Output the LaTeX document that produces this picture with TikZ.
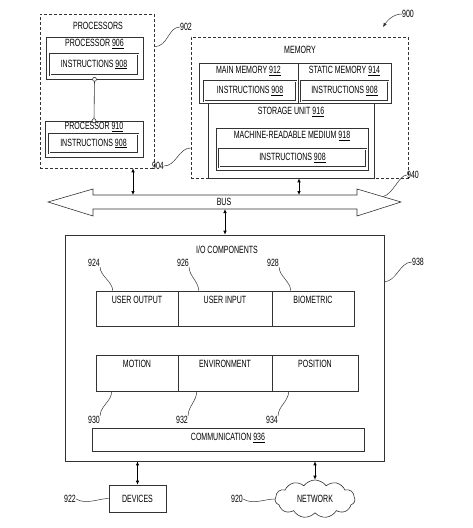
\documentclass[tikz,border=0pt]{standalone}
\usepackage{fontspec}
\setmainfont{Liberation Sans}[FakeStretch=0.67]
\usetikzlibrary{arrows.meta,shapes.symbols}
\colorlet{linegray}{black!80}
\newcommand{\refno}[1]{\underline{#1}}

\begin{document}
\begin{tikzpicture}[x=1pt, y=-1pt, every node/.style={font=\fontsize{10.5}{12}\selectfont, inner sep=0pt},
    box/.style={draw=linegray, line width=0.6pt},
    group/.style={draw=linegray, line width=0.6pt, dash pattern=on 3pt off 2pt},
    instr/.style={draw=linegray, double, double distance=0.6pt, line width=0.4pt},
    cell/.style={draw=linegray, line width=0.6pt, inner ysep=1.5pt, text height=11pt, text depth=21pt},
    lead/.style={draw=linegray, line width=0.5pt},
    link/.style={draw=black, line width=0.7pt, <->},
    >={Latex[length=4pt,width=3.5pt]}]
    \useasboundingbox (0,0) rectangle (472,528);
    \node[group, minimum width=114pt, minimum height=154pt] (procs) at (97,91) {};
    \node (procs-t) at (98,26) {PROCESSORS};
    \node[box, minimum width=97pt, minimum height=42pt] (p906) at (94.5,58) {};
    \node (p906-t) at (94.5,44) {PROCESSOR \refno{906}};
    \node[instr, minimum width=88pt, minimum height=21pt] (i906) at (94,64.5) {INSTRUCTIONS \refno{908}};
    \node[box, minimum width=98pt, minimum height=36pt] (p910) at (94,139) {};
    \node (p910-t) at (94,127) {PROCESSOR \refno{910}};
    \node[instr, minimum width=89pt, minimum height=19pt] (i910) at (93.5,143.5) {INSTRUCTIONS \refno{908}};
    \draw[box] (p906.south) -- (p910.north);
    \draw[box, fill=white] (p906.south) circle (2pt) (p910.north) circle (2pt);

    \node[group, minimum width=217pt, minimum height=141pt] (mem) at (299.5,107.5) {};
    \node (mem-t) at (300,50) {MEMORY};
    \node[box, minimum width=99pt, minimum height=40pt] (mm912) at (248.5,83) {};
    \node (mm912-t) at (248.5,71) {MAIN MEMORY \refno{912}};
    \node[instr, minimum width=92pt, minimum height=20pt] (i912) at (250,91) {INSTRUCTIONS \refno{908}};
    \node[box, minimum width=93pt, minimum height=40pt] (sm914) at (344.5,83) {};
    \node (sm914-t) at (344.5,71) {STATIC MEMORY \refno{914}};
    \node[instr, minimum width=87pt, minimum height=20pt] (i914) at (344.5,91) {INSTRUCTIONS \refno{908}};
    \node[box, minimum width=166pt, minimum height=75pt] (su916) at (291,140.5) {};
    \node (su916-t) at (291,112) {STORAGE UNIT \refno{916}};
    \node[box, minimum width=152pt, minimum height=42pt] (mrm918) at (292,149) {};
    \node (mrm918-t) at (292,136) {MACHINE-READABLE MEDIUM \refno{918}};
    \node[instr, minimum width=147pt, minimum height=18pt] (i918) at (292.5,158) {INSTRUCTIONS \refno{908}};

    \node (l900) at (408,14) {900};
    \coordinate (a900) at (383,27);
    \draw[lead, ->] (l900.west) .. controls +(-9,0) and +(4,-6) .. (a900);
    \node (l902) at (186,27) {902};
    \draw[lead] ([yshift=-33pt]procs.north east) .. controls +(14,0) and +(-12,0) .. (l902.west);
    \node (l904) at (158,166) {904};
    \draw[lead] (l904.east) .. controls +(12,0) and +(-12,0) .. ([yshift=-40.5pt]mem.west);

    \draw[box] (48,202) -- (93,189) -- (93,195) -- (357,195) -- (357,189) -- (401,202)
        -- (357,216) -- (357,209) -- (93,209) -- (93,216) -- cycle;
    \node (bus) at (224,202) {BUS};
    \coordinate (bus-p) at (133,195);
    \coordinate (bus-m) at (299,195);
    \coordinate (bus-io) at (225,209);
    \coordinate (b940) at (383,196.5);
    \node (l940) at (413,175) {940};
    \draw[lead] (b940) .. controls +(10,-2) and +(-8,0) .. (l940.west);

    \node[box, minimum width=319pt, minimum height=226pt] (io) at (224.5,348) {};
    \node (io-t) at (227,250) {I/O COMPONENTS};
    \node[cell, minimum width=82pt] (uout) at (137,308.5) {USER OUTPUT};
    \node[cell, minimum width=94pt] (uin) at (225,308.5) {USER INPUT};
    \node[cell, minimum width=82pt] (bio) at (313,308.5) {BIOMETRIC};
    \node[cell, text depth=22pt, minimum width=82pt] (motion) at (137,373) {MOTION};
    \node[cell, text depth=22pt, minimum width=94pt] (env) at (225,373) {ENVIRONMENT};
    \node[cell, text depth=22pt, minimum width=86pt] (pos) at (315,373) {POSITION};
    \node[cell, text depth=9pt, minimum width=272pt] (comm) at (228,439.5) {COMMUNICATION \refno{936}};

    \node (l924) at (94,263) {924};
    \node (l926) at (183,263) {926};
    \node (l928) at (273,263) {928};
    \draw[lead] (l924.south east) .. controls +(0,9) and +(0,-9) .. ([xshift=17pt]uout.north west);
    \draw[lead] (l926.south east) .. controls +(0,9) and +(0,-9) .. ([xshift=21pt]uin.north west);
    \draw[lead] (l928.south east) .. controls +(0,9) and +(0,-9) .. ([xshift=19pt]bio.north west);
    \node (l930) at (94,420) {930};
    \node (l932) at (182,420) {932};
    \node (l934) at (272,420) {934};
    \draw[lead] (l930.north east) .. controls +(0,-10) and +(0,10) .. ([xshift=16pt]motion.south west);
    \draw[lead] (l932.north east) .. controls +(0,-10) and +(0,10) .. ([xshift=19pt]env.south west);
    \draw[lead] (l934.north east) .. controls +(0,-10) and +(0,10) .. ([xshift=17pt]pos.south west);
    \node (l938) at (418,262) {938};
    \draw[lead] ([yshift=-47pt]io.north east) .. controls +(12,0) and +(-12,0) .. (l938.west);

    \node[box, minimum width=57pt, minimum height=27pt] (dev) at (137.5,498.5) {DEVICES};
    \node[cloud, draw=linegray, line width=0.6pt, cloud puffs=11, cloud puff arc=110, aspect=2.2,
        minimum width=80pt, minimum height=38pt] (net) at (315,499) {NETWORK};
    \node (l922) at (70,499) {922};
    \node (l920) at (237,499) {920};
    \draw[lead] (l922.east) .. controls +(10,6) and +(-10,0) .. (dev.west);
    \draw[lead] (l920.east) .. controls +(10,6) and +(-10,0) .. (net.west);

    \draw[link] (procs.south -| bus-p) -- (bus-p);
    \draw[link] (mem.south -| bus-m) -- (bus-m);
    \draw[link] (bus-io) -- (io.north -| bus-io);
    \draw[link] (io.south -| dev) -- (dev.north);
    \draw[link] (io.south -| net) -- (net.north);
\end{tikzpicture}
\end{document}
